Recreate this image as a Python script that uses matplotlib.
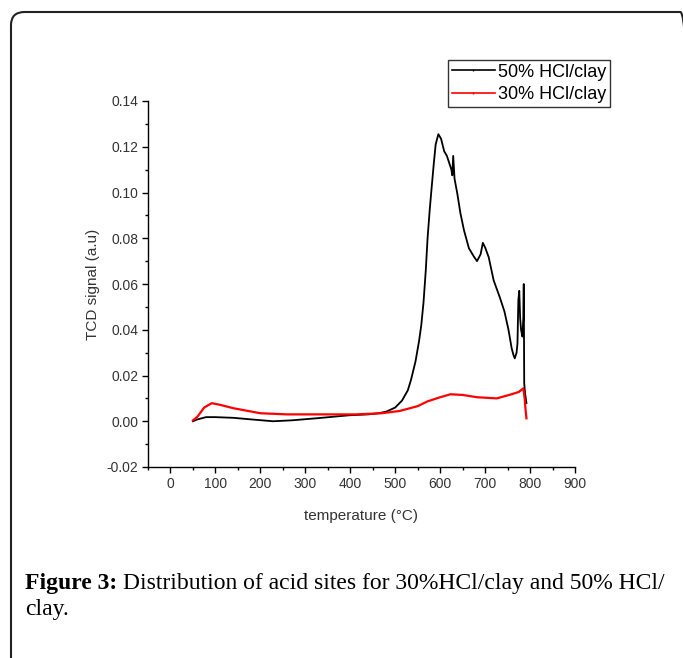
import numpy as np
import matplotlib.pyplot as plt
from matplotlib.lines import Line2D
from matplotlib.patches import FancyBboxPatch

# 50% HCl/clay (black)
temp50 = [50, 60, 79, 100, 140, 180, 228, 270, 325, 397, 440, 463, 480, 500, 515,
          528, 535, 545, 553, 558, 563, 568, 572, 577, 581, 586, 590, 596, 602,
          609, 615, 620, 625, 627, 629, 632, 638, 645, 653, 664, 675, 682, 690,
          695, 700, 708, 719, 733, 743, 752, 759, 763, 766, 770, 772, 774, 776,
          778, 780, 783, 785, 786, 787, 789, 792]
tcd50 = [0.0, 0.0008, 0.0018, 0.0018, 0.0015, 0.0008, 0.0, 0.0004, 0.0013, 0.0026,
         0.003, 0.0035, 0.0042, 0.006, 0.009, 0.0135, 0.018, 0.026, 0.035, 0.042,
         0.052, 0.066, 0.080, 0.093, 0.102, 0.113, 0.121, 0.1255, 0.1235, 0.118,
         0.116, 0.113, 0.110, 0.1075, 0.116, 0.106, 0.0997, 0.091, 0.0835, 0.0756,
         0.072, 0.070, 0.073, 0.078, 0.076, 0.0717, 0.0616, 0.054, 0.048, 0.040,
         0.032, 0.029, 0.0275, 0.030, 0.034, 0.053, 0.057, 0.045, 0.040, 0.037,
         0.045, 0.060, 0.0166, 0.012, 0.008]

# 30% HCl/clay (red)
temp30 = [50, 60, 75, 92, 110, 140, 200, 260, 325, 412, 470, 510, 550, 572, 600,
          623, 650, 682, 726, 759, 775, 785, 788, 790, 792]
tcd30 = [0.0004, 0.002, 0.006, 0.0079, 0.0072, 0.0057, 0.0035, 0.003, 0.003, 0.003,
         0.0035, 0.0045, 0.0066, 0.0087, 0.0105, 0.0118, 0.0115, 0.0105, 0.010,
         0.0118, 0.0128, 0.0144, 0.010, 0.005, 0.0013]

xticks = np.arange(0, 901, 100)
yticks = np.arange(-0.02, 0.141, 0.02)

plt.rcParams['font.family'] = ['Liberation Sans', 'DejaVu Sans']

fig = plt.figure(figsize=(6.83, 6.58), dpi=100)
ax = fig.add_axes([148 / 683, 1 - 467 / 658, 427 / 683, 366 / 658])

ax.plot(temp50, tcd50, color='black', lw=1.3)
ax.plot(temp30, tcd30, color='red', lw=1.6)

ax.set_xlim(-50, 900)
ax.set_ylim(-0.02, 0.14)
ax.set_xticks(xticks)
ax.set_xticks(np.arange(-50, 901, 50), minor=True)
ax.set_yticks(yticks)
ax.set_yticks(np.arange(-0.02, 0.141, 0.01), minor=True)
ax.set_yticklabels(['%.2f' % v for v in yticks])
ax.spines['top'].set_visible(False)
ax.spines['right'].set_visible(False)
for s in ['left', 'bottom']:
    ax.spines[s].set_linewidth(1.0)
ax.tick_params(which='major', direction='out', length=4, width=1,
               labelsize=10, labelcolor='#333333', pad=3)
ax.tick_params(which='minor', direction='out', length=2.5, width=1)

ax.set_xlabel('temperature (°C)', fontsize=11, color='#333333', labelpad=13)
ax.set_ylabel('TCD signal (a.u)', fontsize=11, color='#333333', labelpad=5)

handles = [Line2D([], [], color='black', lw=1.2, marker='|', ms=2),
           Line2D([], [], color='red', lw=1.2, marker='|', ms=2)]
leg = fig.legend(handles, ['50% HCl/clay', '30% HCl/clay'], loc='upper left',
                 bbox_to_anchor=(448 / 683, 1 - 60 / 658), borderaxespad=0,
                 fontsize=13, frameon=True, fancybox=False, edgecolor='black',
                 borderpad=0.2, handlelength=2.4, handletextpad=0.15,
                 labelspacing=0.3)
leg.get_frame().set_linewidth(1.0)

# panel border
border = FancyBboxPatch((11 / 683, -0.05), 1.0, 1 - 12 / 658 + 0.05,
                        boxstyle='round,pad=0,rounding_size=0.02',
                        transform=fig.transFigure, fill=False,
                        edgecolor='#222222', lw=1.5, clip_on=False)
fig.patches.append(border)

cap1 = fig.text(25 / 683, 1 - 583 / 658, 'Figure 3:', fontsize=17,
                fontweight='bold', family='Liberation Serif', va='center')
fig.canvas.draw()
bb = cap1.get_window_extent()
fig.text((bb.x1 + 6) / 683, 1 - 583 / 658,
         'Distribution of acid sites for 30%HCl/clay and 50% HCl/',
         fontsize=17, family='Liberation Serif', va='center')
fig.text(25 / 683, 1 - 610 / 658, 'clay.', fontsize=17,
         family='Liberation Serif', va='center')

fig.savefig('out.png', dpi=100)
